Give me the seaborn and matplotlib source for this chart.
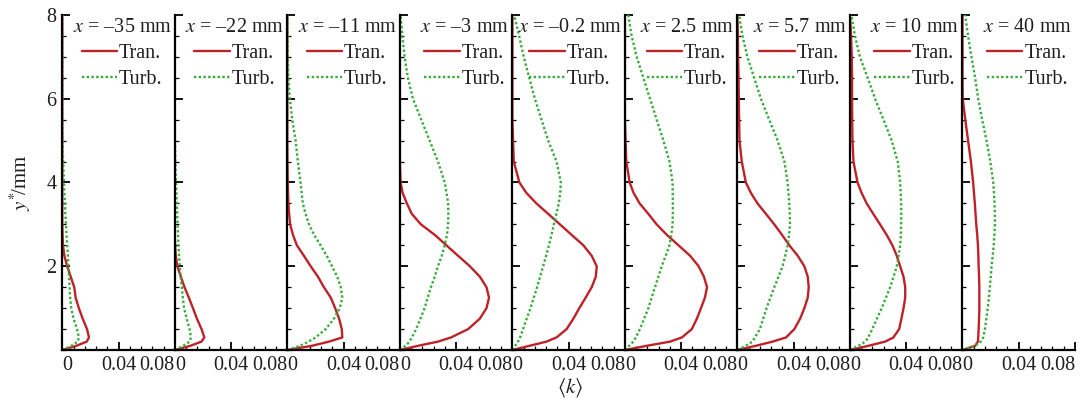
import numpy as np
import pandas as pd
import matplotlib
matplotlib.use("Agg")
import matplotlib.pyplot as plt
from matplotlib.lines import Line2D
from matplotlib.ticker import MultipleLocator, FixedLocator
import seaborn as sns

# ---------------- data ----------------
Y_MM = [0, 0.1, 0.2, 0.3, 0.5, 0.75, 1.0, 1.25, 1.5, 1.75, 2.0, 2.25, 2.5, 2.75,
        3.0, 3.25, 3.5, 3.75, 4.0, 4.5, 5.0, 5.5, 6.0, 6.5, 7.0, 7.5, 8.0]

STATION_LABELS = ["\u201335", "\u201322", "\u201311", "\u20133", "\u20130.2",
                  "2.5", "5.7", "10", "40"]

TRAN_M35 = [0, 0.010, 0.0174, 0.019, 0.0176, 0.0145, 0.0118, 0.0095, 0.0085, 0.006, 0.0035,
            0.0015, 0.0005, 0.0002, 0, 0, 0, 0, 0, 0, 0, 0, 0, 0, 0, 0, 0]
TURB_M35 = [0, 0.0065, 0.011, 0.0118, 0.0105, 0.008, 0.0064, 0.0056, 0.0052, 0.0048, 0.0043,
            0.004, 0.0035, 0.003, 0.0026, 0.0022, 0.0019, 0.0015, 0.0012, 0.0006, 0.0002,
            0, 0, 0, 0, 0, 0]

TRAN_M22 = [0, 0.011, 0.019, 0.021, 0.019, 0.0157, 0.0129, 0.010, 0.0069, 0.0043, 0.0018,
            0.0007, 0.0002, 0, 0, 0, 0, 0, 0, 0, 0, 0, 0, 0, 0, 0, 0]
TURB_M22 = [0, 0.006, 0.0105, 0.0115, 0.0105, 0.0085, 0.0066, 0.0057, 0.005, 0.0042, 0.0035,
            0.003, 0.0026, 0.0023, 0.002, 0.0017, 0.0014, 0.0011, 0.0008, 0.0004, 0.0001,
            0, 0, 0, 0, 0, 0]

TRAN_M11 = [0, 0.0175, 0.0296, 0.0391, 0.0387, 0.0368, 0.034, 0.0309, 0.026, 0.0218, 0.0166,
            0.0118, 0.0068, 0.004, 0.002, 0.0013, 0.0008, 0.0005, 0.0003, 0.0001, 0,
            0, 0, 0, 0, 0, 0]
TURB_M11 = [0, 0.009, 0.015, 0.0201, 0.0273, 0.0332, 0.0373, 0.0391, 0.038, 0.0355, 0.0318,
            0.028, 0.0237, 0.019, 0.0154, 0.013, 0.011, 0.0102, 0.0094, 0.0075, 0.0059,
            0.0035, 0.0018, 0.0008, 0.0003, 0.0001, 0]

TRAN_M3 = [0, 0.0129, 0.0271, 0.0364, 0.0486, 0.0569, 0.0616, 0.0634, 0.0616, 0.0569, 0.0498,
           0.0414, 0.0331, 0.0248, 0.015, 0.0085, 0.005, 0.002, 0.0005, 0, 0,
           0, 0, 0, 0, 0, 0]
TURB_M3 = [0, 0.004, 0.0069, 0.0085, 0.0116, 0.0147, 0.0176, 0.0198, 0.0221, 0.0248, 0.0271,
           0.0298, 0.0319, 0.0335, 0.0343, 0.0345, 0.0343, 0.0332, 0.0319, 0.0271, 0.0212,
           0.0152, 0.0093, 0.0057, 0.0034, 0.0018, 0.0005]

TRAN_M02 = [0, 0.0121, 0.0243, 0.0314, 0.0386, 0.0434, 0.0476, 0.0521, 0.0564, 0.0593, 0.06,
            0.0564, 0.0505, 0.0421, 0.0338, 0.0255, 0.0171, 0.010, 0.005, 0.001, 0.0005,
            0, 0, 0, 0, 0, 0]
TURB_M02 = [0, 0.002, 0.004, 0.0055, 0.0076, 0.0102, 0.0129, 0.0152, 0.0176, 0.0197, 0.0219,
            0.024, 0.026, 0.0278, 0.0295, 0.0313, 0.033, 0.034, 0.0345, 0.0314, 0.0255,
            0.0207, 0.016, 0.012, 0.0081, 0.0048, 0.0013]

TRAN_P25 = [0, 0.0155, 0.0321, 0.0405, 0.0476, 0.0512, 0.0541, 0.0569, 0.0584, 0.0562, 0.0524,
            0.0464, 0.0381, 0.0298, 0.0226, 0.0167, 0.0105, 0.0062, 0.0034, 0.001, 0.0005,
            0, 0, 0, 0, 0, 0]
TURB_P25 = [0, 0.003, 0.006, 0.0078, 0.0107, 0.0137, 0.0167, 0.019, 0.0214, 0.0238, 0.0262,
            0.029, 0.0317, 0.033, 0.0339, 0.0341, 0.0341, 0.034, 0.0339, 0.0317, 0.0274,
            0.0226, 0.0179, 0.0131, 0.0084, 0.0048, 0.0024]

TRAN_P57 = [0, 0.0131, 0.025, 0.0346, 0.0405, 0.0446, 0.0476, 0.05, 0.0507, 0.05, 0.0476,
            0.0429, 0.0369, 0.0317, 0.0262, 0.0203, 0.0143, 0.0096, 0.006, 0.0031, 0.0015,
            0.0012, 0.001, 0.0008, 0.0005, 0.0003, 0]
TURB_P57 = [0, 0.006, 0.0107, 0.0125, 0.016, 0.0183, 0.0207, 0.0235, 0.0262, 0.0292, 0.0321,
            0.034, 0.0357, 0.0367, 0.0374, 0.0372, 0.0369, 0.0363, 0.0357, 0.0334, 0.0286,
            0.0226, 0.0167, 0.0119, 0.0071, 0.0036, 0.0012]

TRAN_P10 = [0, 0.0131, 0.025, 0.0309, 0.035, 0.0366, 0.0381, 0.0393, 0.0393, 0.0381, 0.0357,
            0.0333, 0.0302, 0.0261, 0.0214, 0.0166, 0.0119, 0.0083, 0.0054, 0.0025, 0.0018,
            0.0016, 0.0015, 0.0015, 0.0013, 0.0008, 0]
TURB_P10 = [0, 0.006, 0.011, 0.013, 0.0159, 0.0192, 0.0226, 0.0256, 0.0286, 0.031, 0.0333,
            0.0346, 0.0357, 0.0362, 0.0364, 0.0365, 0.0364, 0.0361, 0.0357, 0.034, 0.0297,
            0.0238, 0.0179, 0.0126, 0.0071, 0.0036, 0.001]

TRAN_P40 = [0, 0.009, 0.011, 0.0112, 0.0115, 0.0118, 0.012, 0.012, 0.012, 0.0118, 0.0115,
            0.0113, 0.011, 0.0105, 0.0098, 0.0093, 0.0088, 0.0082, 0.0076, 0.006, 0.004,
            0.002, 0.0002, 0, 0, 0, 0]
TURB_P40 = [0, 0.009, 0.013, 0.0148, 0.016, 0.017, 0.018, 0.0188, 0.0195, 0.0201, 0.0207,
            0.0215, 0.0222, 0.0227, 0.0231, 0.023, 0.0228, 0.0224, 0.0219, 0.0198, 0.0171,
            0.014, 0.0112, 0.009, 0.0064, 0.004, 0.0019]

TRAN_ALL = [TRAN_M35, TRAN_M22, TRAN_M11, TRAN_M3, TRAN_M02, TRAN_P25, TRAN_P57, TRAN_P10, TRAN_P40]
TURB_ALL = [TURB_M35, TURB_M22, TURB_M11, TURB_M3, TURB_M02, TURB_P25, TURB_P57, TURB_P10, TURB_P40]

X_TICKS = [0, 0.04, 0.08]
X_TICK_LABELS = ["0", "0.04", "0.08"]
Y_TICKS = [2, 4, 6, 8]

# ---------------- build long table ----------------
rows = []
for label, tr, tu in zip(STATION_LABELS, TRAN_ALL, TURB_ALL):
    for i, y in enumerate(Y_MM):
        rows.append({"station": label, "model": "Tran.", "y": y, "k": tr[i]})
    for i, y in enumerate(Y_MM):
        rows.append({"station": label, "model": "Turb.", "y": y, "k": tu[i]})
df = pd.DataFrame(rows)

# ---------------- style ----------------
sns.set_theme(style="ticks")
plt.rcParams["font.family"] = ["Liberation Serif", "DejaVu Serif"]
plt.rcParams["mathtext.fontset"] = "stix"

RED = "#BE2229"
GREEN = "#36AB3A"
TXT = "#1e1e1e"
LW = 1.7
DOT = (1.0, 1.0)

fig, axes = plt.subplots(1, 9, figsize=(10.83, 4.03), dpi=100, sharey=True)
fig.subplots_adjust(left=0.0575, right=0.9926, bottom=0.1315, top=0.9628, wspace=0)

for ax, label in zip(axes, STATION_LABELS):
    sub = df[df["station"] == label]
    sns.lineplot(data=sub, x="k", y="y", hue="model", style="model",
                 palette={"Tran.": RED, "Turb.": GREEN},
                 dashes={"Tran.": "", "Turb.": DOT},
                 sort=False, estimator=None, units="station", lw=LW,
                 legend=False, ax=ax, orient="y")
    ax.set_xlim(0, 0.08)
    ax.set_ylim(0, 8)
    ax.set_xlabel("")
    ax.set_ylabel("")
    for s in ["top", "right"]:
        ax.spines[s].set_visible(False)
    for s in ["left", "bottom"]:
        ax.spines[s].set_linewidth(1.6)
        ax.spines[s].set_color("black")
    ax.xaxis.set_major_locator(FixedLocator(X_TICKS))
    ax.set_xticklabels(X_TICK_LABELS)
    ax.xaxis.set_minor_locator(MultipleLocator(0.008))
    ax.yaxis.set_major_locator(FixedLocator(Y_TICKS))
    ax.yaxis.set_minor_locator(MultipleLocator(0.5))
    ax.tick_params(which="major", direction="in", length=6, width=1.3, color="black",
                   labelsize=14.5, pad=4, labelcolor=TXT)
    ax.tick_params(which="minor", direction="in", length=3, width=0.9, color="black")
    tls = ax.get_xticklabels()
    tls[0].set_horizontalalignment("left")
    tls[-1].set_horizontalalignment("right")

    handles = [Line2D([], [], color=RED, lw=LW),
               Line2D([], [], color=GREEN, lw=LW, dashes=DOT)]
    leg = ax.legend(handles, ["Tran.", "Turb."], title=f"$x$ = {label} mm",
                    loc="upper right", frameon=False, fontsize=14.5,
                    title_fontsize=14.5, handlelength=1.75, handletextpad=0.1,
                    labelspacing=0.35, borderpad=0.0, borderaxespad=0.15)
    leg.get_title().set_color(TXT)
    for t in leg.get_texts():
        t.set_color(TXT)

fig.text(20 / 1083, 1 - 183 / 403, r"$y^{*}\!$/mm", rotation=90, ha="center",
         va="center", fontsize=15, color=TXT)
fig.text(570 / 1083, 1 - 388 / 403, r"$\langle k\rangle$", ha="center", va="center",
         fontsize=15, color=TXT)

fig.savefig("out.png", dpi=100)
